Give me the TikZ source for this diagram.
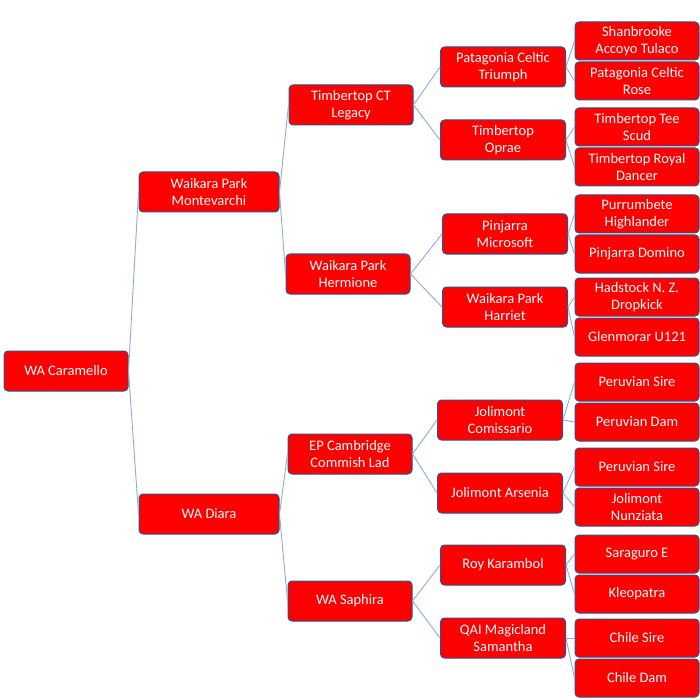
\documentclass[tikz,border=0pt]{standalone}
\usepackage{fontspec}
\setmainfont{Carlito}
\usepackage{tikz}
\usetikzlibrary{positioning}
\definecolor{bordure}{HTML}{2F528F}
\definecolor{lienbleu}{HTML}{8FAADC}
\tikzset{
    boite/.style={draw=bordure, line width=1pt, fill=red, rounded corners=4pt, text=white,
        align=center, inner sep=0pt, minimum width=124pt, minimum height=40pt,
        font=\fontsize{14.5}{17}\selectfont},
    boite large/.style={boite, minimum width=140pt},
    boite feuille/.style={boite, minimum height=38pt},
    lien/.style={lienbleu, line width=0.9pt},
}

\begin{document}
\begin{tikzpicture}[x=1pt, y=-1pt]
\useasboundingbox (0,0) rectangle (700,700);
% Génération 0
\node[boite] (caramello) at (66,371) {WA Caramello};
% Génération 1
\node[boite large] (montevarchi) at (209,192) {Waikara Park\\Montevarchi};
\node[boite large] (diara) at (209,514) {WA Diara};
% Génération 2
\node[boite] (legacy) at (351,105) {Timbertop CT\\Legacy};
\node[boite] (hermione) at (348,274) {Waikara Park\\Hermione};
\node[boite] (commish) at (350,454) {EP Cambridge\\Commish Lad};
\node[boite] (saphira) at (350,601) {WA Saphira};
% Génération 3
\node[boite, minimum width=125pt] (triumph) at (503,67) {Patagonia Celtic\\Triumph};
\node[boite, minimum width=125pt] (oprae) at (503,140) {Timbertop\\Oprae};
\node[boite, minimum width=125pt] (microsoft) at (505,234) {Pinjarra\\Microsoft};
\node[boite, minimum width=125pt] (harriet) at (505,307) {Waikara Park\\Harriet};
\node[boite, minimum width=125pt] (comissario) at (500,420) {Jolimont\\Comissario};
\node[boite, minimum width=125pt] (arsenia) at (500,493) {Jolimont Arsenia};
\node[boite, minimum width=125pt] (karambol) at (503,565) {Roy Karambol};
\node[boite, minimum width=125pt] (samantha) at (503,638) {QAI Magicland\\Samantha};
% Génération 4
\node[boite feuille] (shanbrooke) at (637,41) {Shanbrooke\\Accoyo Tulaco};
\node[boite feuille] (rose) at (637,81) {Patagonia Celtic\\Rose};
\node[boite feuille] (scud) at (637,127) {Timbertop Tee\\Scud};
\node[boite feuille] (dancer) at (637,167) {Timbertop Royal\\Dancer};
\node[boite feuille] (highlander) at (637,214) {Purrumbete\\Highlander};
\node[boite feuille] (domino) at (637,254) {Pinjarra Domino};
\node[boite feuille] (dropkick) at (637,297) {Hadstock N. Z.\\Dropkick};
\node[boite feuille] (glenmorar) at (637,337) {Glenmorar U121};
\node[boite feuille] (sireA) at (637,382) {Peruvian Sire};
\node[boite feuille] (damA) at (637,422) {Peruvian Dam};
\node[boite feuille] (sireB) at (637,467) {Peruvian Sire};
\node[boite feuille] (nunziata) at (637,507) {Jolimont\\Nunziata};
\node[boite feuille] (saraguro) at (637,554) {Saraguro E};
\node[boite feuille] (kleopatra) at (637,594) {Kleopatra};
\node[boite feuille] (chilesire) at (637,638) {Chile Sire};
\node[boite feuille] (chiledam) at (637,678) {Chile Dam};
% Liens parent -> enfant
\foreach \p/\e in {caramello/montevarchi, caramello/diara,
    montevarchi/legacy, montevarchi/hermione, diara/commish, diara/saphira,
    legacy/triumph, legacy/oprae, hermione/microsoft, hermione/harriet,
    commish/comissario, commish/arsenia, saphira/karambol, saphira/samantha,
    triumph/shanbrooke, triumph/rose, oprae/scud, oprae/dancer,
    microsoft/highlander, microsoft/domino, harriet/dropkick, harriet/glenmorar,
    comissario/sireA, comissario/damA, arsenia/sireB, arsenia/nunziata,
    karambol/saraguro, karambol/kleopatra, samantha/chilesire, samantha/chiledam}
    {\draw[lien] (\p.east) -- (\e.west);}
\end{tikzpicture}
\end{document}
